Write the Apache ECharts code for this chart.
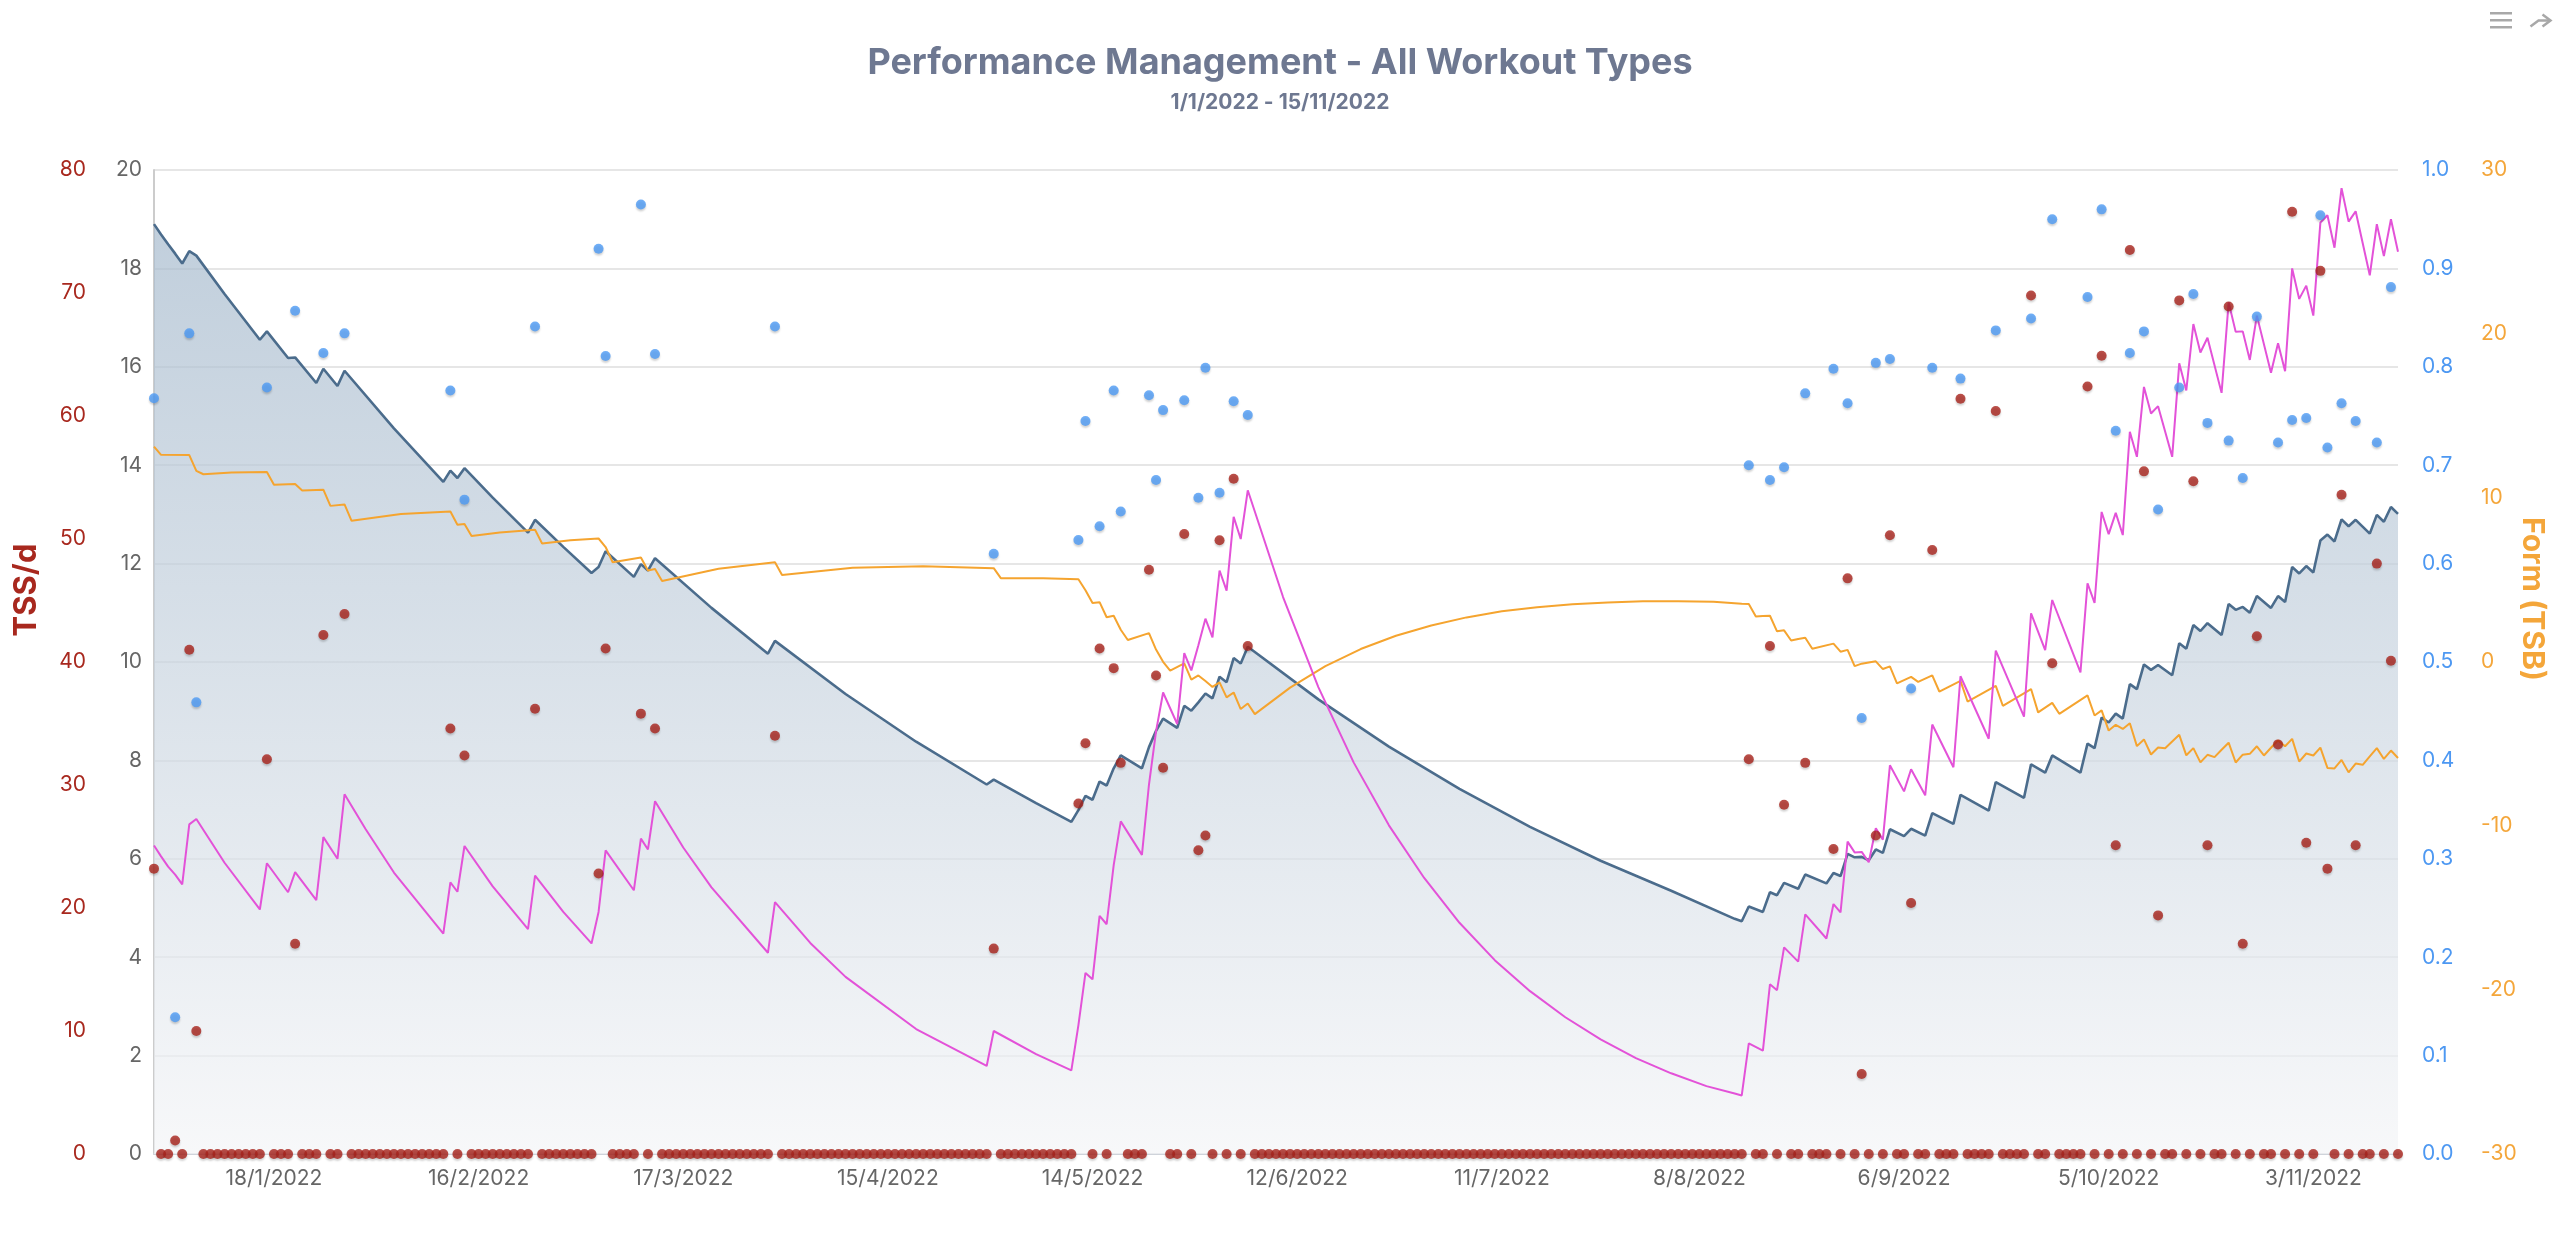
<!DOCTYPE html>
<html>
<head>
<meta charset="utf-8">
<script src="https://cdn.jsdelivr.net/npm/echarts@6/dist/echarts.min.js"></script>
<style>
html,body{margin:0;padding:0;background:#fff;}
#chart{width:2560px;height:1246px;}
</style>
</head>
<body>
<div id="chart"></div>
<script>
// ---------- DATA ----------
const titleText = 'Performance Management - All Workout Types';
const subtitleText = '1/1/2022 - 15/11/2022';
const firstDay = [2022, 0, 1];
const dayCount = 319;

const xTickLabels = ['18/1/2022','16/2/2022','17/3/2022','15/4/2022','14/5/2022','12/6/2022','11/7/2022','8/8/2022','6/9/2022','5/10/2022','3/11/2022'];

// [dayIndex, TSS/d] for workout days; all other days read as 0
const tssWorkouts = [
  [0,23.2],[3,1.1],[5,41.0],[6,10.0],[16,32.1],[20,17.1],[24,42.2],[27,43.9],
  [42,34.6],[44,32.4],[54,36.2],[63,22.8],[64,41.1],[69,35.8],[71,34.6],[88,34.0],[119,16.7],
  [131,28.5],[132,33.4],[134,41.1],[136,39.5],[137,31.8],[141,47.5],[142,38.9],[143,31.4],
  [146,50.4],[148,24.7],[149,25.9],[151,49.9],[153,54.9],[155,41.3],
  [226,32.1],[229,41.3],[231,28.4],[234,31.8],[238,24.8],[240,46.8],[242,6.5],[244,25.9],
  [246,50.3],[249,20.4],[252,49.1],[256,61.4],[261,60.4],[266,69.8],[269,39.9],[274,62.4],
  [276,64.9],[278,25.1],[280,73.5],[282,55.5],[284,19.4],[287,69.4],[289,54.7],[291,25.1],
  [294,68.9],[296,17.1],[298,42.1],[301,33.3],[303,76.6],[305,25.3],[307,71.8],[308,23.2],
  [310,53.6],[312,25.1],[315,48.0],[317,40.1]
];

// [dayIndex, intensity factor]
const ifWorkouts = [
  [0,0.768],[3,0.139],[5,0.834],[6,0.459],[16,0.779],[20,0.857],[24,0.814],[27,0.834],
  [42,0.776],[44,0.665],[54,0.841],[63,0.920],[64,0.811],[69,0.965],[71,0.813],[88,0.841],[119,0.610],
  [131,0.624],[132,0.745],[134,0.638],[136,0.776],[137,0.653],[141,0.771],[142,0.685],[143,0.756],
  [146,0.766],[148,0.667],[149,0.799],[151,0.672],[153,0.765],[155,0.751],
  [226,0.700],[229,0.685],[231,0.698],[234,0.773],[238,0.798],[240,0.763],[242,0.443],[244,0.804],
  [246,0.808],[249,0.473],[252,0.799],[256,0.788],[261,0.837],[266,0.849],[269,0.950],[274,0.871],
  [276,0.960],[278,0.735],[280,0.814],[282,0.836],[284,0.655],[287,0.779],[289,0.874],[291,0.743],
  [294,0.725],[296,0.687],[298,0.851],[301,0.723],[303,0.746],[305,0.748],[307,0.954],[308,0.718],
  [310,0.763],[312,0.745],[315,0.723],[317,0.881]
];

// Fitness (CTL) line, [dayIndex, value]
const ctlPoints = [
  [0,18.90],[1,18.69],[2,18.49],[3,18.30],[4,18.10],[5,18.35],[6,18.26],[10,17.48],[15,16.55],[16,16.72],
  [19,16.18],[20,16.19],[23,15.67],[24,15.96],[26,15.61],[27,15.92],[34,14.75],[41,13.66],[42,13.89],
  [43,13.74],[44,13.94],[48,13.34],[53,12.63],[54,12.89],[58,12.34],[62,11.81],[63,11.93],[64,12.25],
  [68,11.73],[69,11.99],[70,11.86],[71,12.11],[79,11.10],[87,10.17],[88,10.43],[98,9.35],[108,8.38],
  [118,7.51],[119,7.61],[125,7.13],[130,6.75],
  [131,6.99],[132,7.28],[133,7.20],[134,7.57],[135,7.49],[136,7.84],[137,8.10],[140,7.84],[141,8.27],
  [142,8.60],[143,8.85],[145,8.66],[146,9.11],[147,9.01],[148,9.18],[149,9.36],[150,9.26],[151,9.70],
  [152,9.59],[153,10.08],[154,9.97],[155,10.31],
  [165,9.24],[175,8.28],[185,7.42],[195,6.65],[205,5.96],[215,5.35],[224,4.78],
  [225,4.73],[226,5.03],[228,4.92],[229,5.32],[230,5.26],[231,5.51],[233,5.39],[234,5.68],[237,5.50],
  [238,5.71],[239,5.65],[240,6.10],[241,6.03],[242,6.04],[243,5.97],[244,6.19],[245,6.12],[246,6.60],
  [248,6.46],[249,6.61],[251,6.47],[252,6.93],[255,6.71],[256,7.30],[260,6.98],[261,7.56],[265,7.24],
  [266,7.92],[268,7.75],[269,8.10],[273,7.75],[274,8.34],[275,8.25],[276,8.87],[277,8.77],[278,8.95],
  [279,8.85],[280,9.55],[281,9.45],[282,9.95],[283,9.84],[284,9.94],[286,9.73],[287,10.38],[288,10.27],
  [289,10.75],[290,10.63],[291,10.79],[293,10.55],[294,11.18],[295,11.06],[296,11.12],[297,11.00],
  [298,11.34],[300,11.10],[301,11.34],[302,11.22],[303,11.93],[304,11.80],[305,11.95],[306,11.82],
  [307,12.47],[308,12.59],[309,12.45],[310,12.90],[311,12.76],[312,12.89],[314,12.61],[315,12.99],
  [316,12.85],[317,13.15],[318,13.01]
];

// Fatigue (ATL) line, [dayIndex, value]
const atlPoints = [
  [0,6.27],[1,6.05],[2,5.84],[3,5.68],[4,5.48],[5,6.70],[6,6.81],[10,5.92],[15,4.97],[16,5.91],
  [19,5.32],[20,5.73],[23,5.16],[24,6.44],[26,6.00],[27,7.31],[30,6.60],[34,5.72],[41,4.48],[42,5.52],
  [43,5.33],[44,6.26],[48,5.44],[53,4.57],[54,5.66],[58,4.92],[62,4.28],[63,4.92],[64,6.17],[68,5.36],
  [69,6.41],[70,6.19],[71,7.17],[75,6.23],[79,5.42],[87,4.09],[88,5.12],[93,4.29],[98,3.60],[108,2.54],
  [118,1.79],[119,2.50],[125,2.03],[130,1.70],
  [131,2.62],[132,3.68],[133,3.55],[134,4.84],[135,4.67],[136,5.87],[137,6.76],[140,6.08],[141,7.51],
  [142,8.59],[143,9.38],[145,8.74],[146,10.18],[147,9.83],[148,10.34],[149,10.88],[150,10.50],
  [151,11.86],[152,11.45],[153,12.95],[154,12.50],[155,13.49],
  [160,11.32],[165,9.49],[170,7.96],[175,6.68],[180,5.61],[185,4.70],[190,3.94],[195,3.31],[200,2.78],
  [205,2.33],[210,1.95],[215,1.64],[220,1.38],[224,1.23],
  [225,1.19],[226,2.25],[228,2.10],[229,3.45],[230,3.33],[231,4.20],[233,3.91],[234,4.87],[237,4.38],
  [238,5.08],[239,4.91],[240,6.35],[241,6.13],[242,6.14],[243,5.93],[244,6.62],[245,6.39],[246,7.90],
  [248,7.37],[249,7.82],[251,7.29],[252,8.73],[255,7.86],[256,9.71],[260,8.44],[261,10.23],[265,8.89],
  [266,10.99],[268,10.24],[269,11.26],[273,9.79],[274,11.60],[275,11.20],[276,13.05],[277,12.60],
  [278,13.03],[279,12.58],[280,14.68],[281,14.17],[282,15.59],[283,15.05],[284,15.20],[286,14.17],
  [287,16.07],[288,15.52],[289,16.87],[290,16.29],[291,16.59],[293,15.47],[294,17.31],[295,16.71],
  [296,16.72],[297,16.14],[298,17.04],[300,15.88],[301,16.48],[302,15.91],[303,18.00],[304,17.38],
  [305,17.65],[306,17.04],[307,18.93],[308,19.08],[309,18.42],[310,19.63],[311,18.95],[312,19.16],
  [314,17.86],[315,18.90],[316,18.25],[317,19.00],[318,18.34]
];

// Form (TSB) line, [dayIndex, value]
const tsbPoints = [
  [0,13.13],[1,12.63],[5,12.62],[6,11.65],[7,11.45],[11,11.56],[16,11.58],[17,10.81],[20,10.86],
  [21,10.46],[24,10.51],[25,9.52],[27,9.61],[28,8.61],[35,9.03],[42,9.18],[43,8.37],[44,8.41],[45,7.68],
  [49,7.90],[54,8.06],[55,7.23],[59,7.42],[63,7.53],[64,7.01],[65,6.08],[69,6.37],[70,5.58],[71,5.67],
  [72,4.94],[80,5.68],[88,6.08],[89,5.31],[99,5.75],[109,5.84],[119,5.72],[120,5.11],[126,5.10],[131,5.05],
  [132,4.37],[133,3.60],[134,3.65],[135,2.73],[136,2.82],[137,1.97],[138,1.34],[141,1.76],[142,0.76],
  [143,0.01],[144,-0.53],[146,-0.08],[147,-1.07],[148,-0.82],[149,-1.16],[150,-1.52],[151,-1.24],
  [152,-2.16],[153,-1.86],[154,-2.87],[155,-2.53],[156,-3.18],
  [161,-1.56],[166,-0.25],[171,0.79],[176,1.60],[181,2.23],[186,2.72],[191,3.09],[196,3.34],[201,3.52],
  [206,3.63],[211,3.70],[216,3.71],[221,3.68],[225,3.55],
  [226,3.54],[227,2.78],[228,2.80],[229,2.82],[230,1.87],[231,1.93],[232,1.31],[233,1.40],[234,1.48],
  [235,0.81],[238,1.12],[239,0.63],[240,0.74],[241,-0.25],[242,-0.10],[244,0.04],[245,-0.43],[246,-0.27],
  [247,-1.30],[248,-1.10],[249,-0.91],[250,-1.21],[252,-0.82],[253,-1.80],[256,-1.15],[257,-2.41],
  [261,-1.46],[262,-2.67],[266,-1.65],[267,-3.07],[269,-2.49],[270,-3.16],[274,-2.04],[275,-3.26],
  [276,-2.95],[277,-4.18],[278,-3.83],[279,-4.08],[280,-3.73],[281,-5.13],[282,-4.72],[283,-5.64],
  [284,-5.21],[285,-5.26],[286,-4.85],[287,-4.44],[288,-5.69],[289,-5.25],[290,-6.12],[291,-5.66],
  [292,-5.80],[293,-5.35],[294,-4.92],[295,-6.13],[296,-5.65],[297,-5.60],[298,-5.14],[299,-5.70],
  [300,-5.23],[301,-4.78],[302,-5.14],[303,-4.69],[304,-6.07],[305,-5.58],[306,-5.70],[307,-5.22],
  [308,-6.46],[309,-6.49],[310,-5.97],[311,-6.73],[312,-6.19],[313,-6.27],[314,-5.75],[315,-5.25],
  [316,-5.91],[317,-5.40],[318,-5.85]
];

// ---------- BUILD ----------
const dates = [];
for (let i = 0; i < dayCount; i++) {
  const dt = new Date(Date.UTC(firstDay[0], firstDay[1], firstDay[2] + i));
  dates.push(dt.getUTCDate() + '/' + (dt.getUTCMonth() + 1) + '/' + dt.getUTCFullYear());
}
const toCat = pts => pts.map(p => [dates[p[0]], p[1]]);
const tssMap = {};
tssWorkouts.forEach(p => { tssMap[p[0]] = p[1]; });
const tssData = dates.map((d, i) => [d, tssMap[i] !== undefined ? tssMap[i] : 0]);
const ifData = toCat(ifWorkouts);

const FONT = 'Inter, "Liberation Sans", sans-serif';
const C_GREY = '#666666', C_RED = '#a8281e', C_BLUE = '#4d98f2', C_ORANGE = '#f4a63a';

const chart = echarts.init(document.getElementById('chart'), null, {renderer: 'canvas'});
chart.setOption({
  animation: false,
  backgroundColor: '#ffffff',
  title: [
    {text: titleText, left: 'center', top: 40,
     textStyle: {fontFamily: FONT, fontSize: 36, fontWeight: 'bold', color: '#6e7891'}},
    {text: subtitleText, left: 'center', top: 87,
     textStyle: {fontFamily: FONT, fontSize: 21, fontWeight: 'bold', color: '#6e7891'}}
  ],
  grid: {left: 154, right: 162, top: 170, bottom: 92, containLabel: false},
  xAxis: {
    type: 'category', data: dates, boundaryGap: false,
    axisLine: {show: true, lineStyle: {color: '#cfd3da', width: 2}},
    axisTick: {show: false},
    axisLabel: {
      interval: (idx, val) => xTickLabels.indexOf(val) >= 0,
      color: C_GREY, fontFamily: FONT, fontSize: 21, margin: 14
    },
    splitLine: {show: false}
  },
  yAxis: [
    {type: 'value', min: 0, max: 20, interval: 2, position: 'left', offset: 0,
     axisLine: {show: true, lineStyle: {color: '#cccccc', width: 2}},
     axisTick: {show: false},
     axisLabel: {color: C_GREY, fontFamily: FONT, fontSize: 21, margin: 12},
     splitLine: {show: true, lineStyle: {color: '#dedede', width: 1.6}}},
    {type: 'value', min: 0, max: 80, interval: 10, position: 'left', offset: 56,
     axisLine: {show: false}, axisTick: {show: false},
     axisLabel: {color: C_RED, fontFamily: FONT, fontSize: 21, margin: 12},
     splitLine: {show: false}},
    {type: 'value', min: 0, max: 1, interval: 0.1, position: 'right', offset: 0,
     axisLine: {show: false}, axisTick: {show: false},
     axisLabel: {color: C_BLUE, fontFamily: FONT, fontSize: 21, margin: 24,
                 formatter: v => v.toFixed(1)},
     splitLine: {show: false}},
    {type: 'value', min: -30, max: 30, interval: 10, position: 'right', offset: 71,
     axisLine: {show: false}, axisTick: {show: false},
     axisLabel: {color: C_ORANGE, fontFamily: FONT, fontSize: 21, margin: 12},
     splitLine: {show: false}}
  ],
  graphic: [
    {type: 'text', x: 27, y: 590, rotation: Math.PI / 2,
     style: {text: 'TSS/d', fill: C_RED, font: 'bold 31px ' + FONT, align: 'center', verticalAlign: 'middle'}},
    {type: 'text', x: 2532, y: 599, rotation: -Math.PI / 2,
     style: {text: 'Form (TSB)', fill: C_ORANGE, font: 'bold 30px ' + FONT, align: 'center', verticalAlign: 'middle'}},
    {type: 'group', left: 2490, top: 12, children: [
      {type: 'rect', shape: {x: 0, y: 0, width: 22, height: 2.5}, style: {fill: '#a8a8a8'}},
      {type: 'rect', shape: {x: 0, y: 7, width: 22, height: 2.5}, style: {fill: '#a8a8a8'}},
      {type: 'rect', shape: {x: 0, y: 14, width: 22, height: 2.5}, style: {fill: '#a8a8a8'}}
    ]},
    {type: 'group', left: 2528, top: 12, children: [
      {type: 'polyline', shape: {points: [[0, 14], [8, 8], [20, 8]]}, style: {stroke: '#a8a8a8', lineWidth: 2.5, fill: null}},
      {type: 'polyline', shape: {points: [[12, 2], [20, 8], [12, 14]]}, style: {stroke: '#a8a8a8', lineWidth: 2.5, fill: null}}
    ]}
  ],
  series: [
    {name: 'Fitness (CTL)', type: 'line', yAxisIndex: 0, data: toCat(ctlPoints),
     symbol: 'none', z: 1,
     lineStyle: {color: '#4b6c8c', width: 2.6},
     areaStyle: {color: new echarts.graphic.LinearGradient(0, 0, 0, 1, [
       {offset: 0, color: '#a6bacd'}, {offset: 0.5, color: '#cbd6e1'}, {offset: 1, color: '#f4f5f7'}])}},
    {name: 'Form (TSB)', type: 'line', yAxisIndex: 3, data: toCat(tsbPoints),
     symbol: 'none', z: 2, lineStyle: {color: '#f5a42f', width: 2}},
    {name: 'Fatigue (ATL)', type: 'line', yAxisIndex: 0, data: toCat(atlPoints),
     symbol: 'none', z: 3, lineStyle: {color: '#e352d8', width: 2}},
    {name: 'TSS/d', type: 'scatter', yAxisIndex: 1, data: tssData, symbolSize: 10, z: 4,
     itemStyle: {color: '#a8231b', shadowColor: 'rgba(0,0,0,0.22)', shadowBlur: 2, shadowOffsetY: 2}},
    {name: 'IF', type: 'scatter', yAxisIndex: 2, data: ifData, symbolSize: 10, z: 5,
     itemStyle: {color: '#4c9af4', shadowColor: 'rgba(0,0,0,0.22)', shadowBlur: 2, shadowOffsetY: 2}}
  ]
});
</script>
</body>
</html>
